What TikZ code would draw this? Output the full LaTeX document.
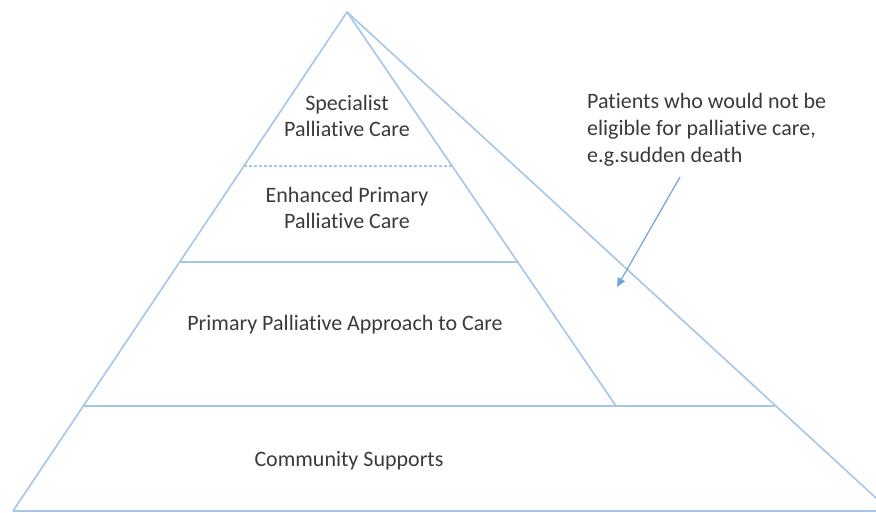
\documentclass[tikz,border=0pt]{standalone}
\usepackage{fontspec}
\setmainfont{Carlito}[Ligatures=NoCommon]
\usetikzlibrary{arrows.meta}
\definecolor{edgeblue}{HTML}{A4C6E8}
\definecolor{arrowblue}{HTML}{6FA5DA}
\definecolor{textgray}{HTML}{3A3A3A}
\begin{document}
\begin{tikzpicture}[x=1pt,y=-1pt,
  edge/.style={draw=edgeblue,line width=1.6pt},
  lbl/.style={text=textgray,font=\fontsize{22}{26.5}\selectfont,align=center,inner sep=0pt},
  note/.style={text=textgray,font=\fontsize{22}{27}\selectfont,align=left,inner sep=0pt}]
\useasboundingbox (0,0) rectangle (876,513);
\clip (0,0) rectangle (876,513);
% key points
\coordinate (apex) at (347,12);
\coordinate (bl) at (13,511);
\coordinate (br) at (890,511);
\coordinate (rout) at (888,509);
\coordinate (rin) at (616,406);
\coordinate (l406) at (83.4,406);
\coordinate (r406) at (775,406);
\coordinate (l262) at (180,262);
\coordinate (r262) at (518.5,262);
\coordinate (l166) at (244,166);
\coordinate (r166) at (452.5,166);
% outer triangle
\draw[edge,line join=round] (bl) -- (apex) -- (rout);
\draw[edge] (bl) -- (br);
% inner right edge
\draw[edge] (apex) -- (rin);
% tier lines
\draw[edge] (l406) -- (r406);
\draw[edge] (l262) -- (r262);
\draw[edge,line width=1.2pt,dash pattern=on 3pt off 2pt] (l166) -- (r166);
% labels
\node[lbl] (spec) at (347,116) {Specialist\\Palliative Care};
\node[lbl] (enh) at (347,208) {Enhanced Primary\\Palliative Care};
\node[lbl] (prim) at (345,325) {Primary Palliative Approach to Care};
\node[lbl] (comm) at (349,461) {Community Supports};
\node[note,anchor=base west] (note) at (587,163) {Patients who would not be\\eligible for palliative care,\\e.g.sudden death};
% arrow
\coordinate (astart) at (680,177);
\coordinate (aend) at (617,287);
\draw[draw=arrowblue,line width=1.2pt,-{Triangle[length=9pt,width=8pt]}] (astart) -- (aend);
\end{tikzpicture}
\end{document}
